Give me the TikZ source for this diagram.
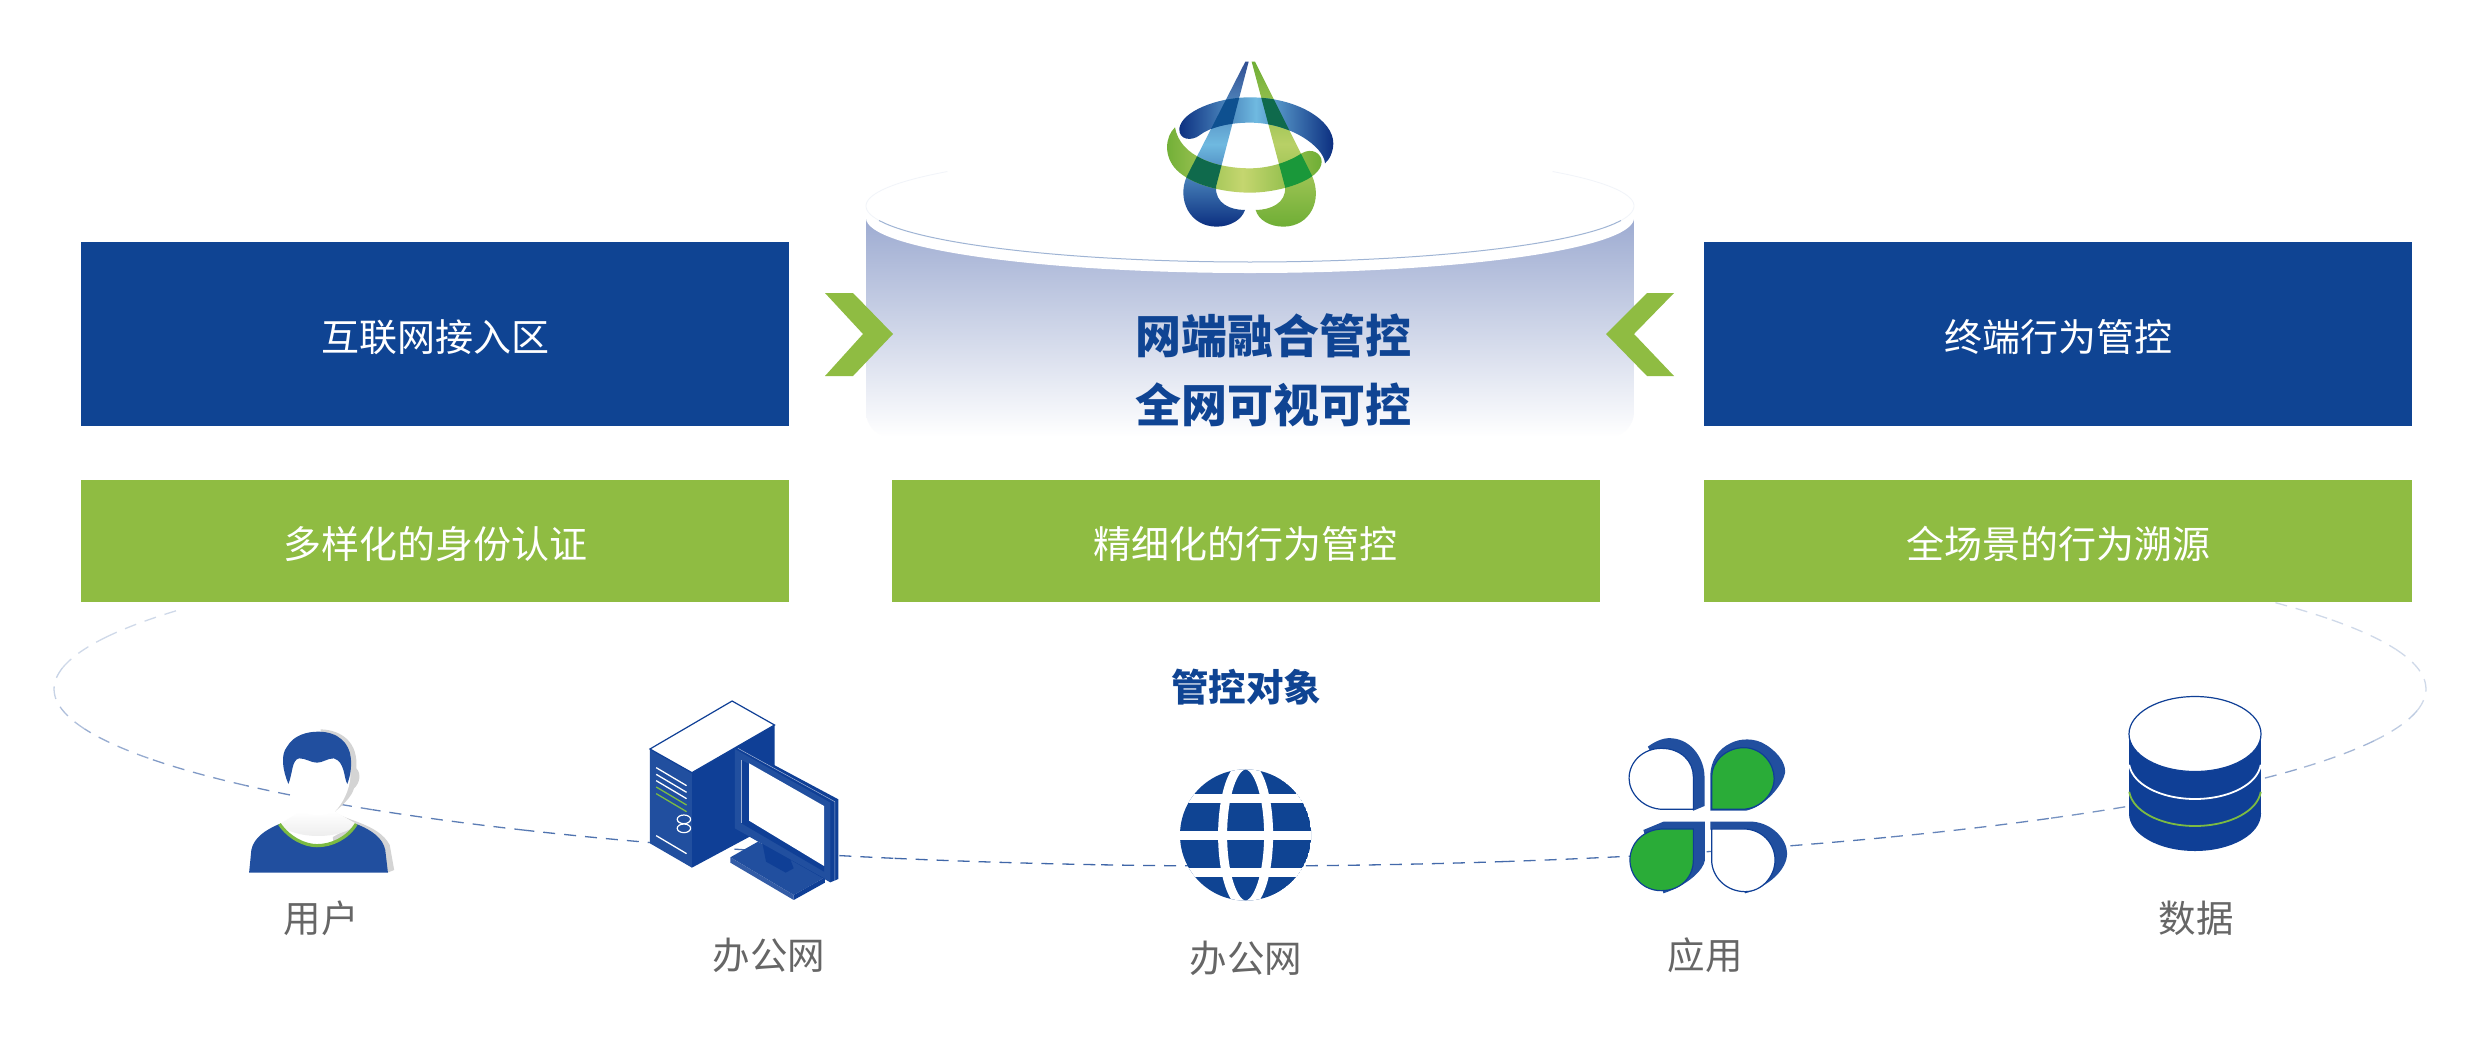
\documentclass[tikz,border=0pt]{standalone}
\usepackage{fontspec}
\setmainfont{Noto Sans CJK SC}
\usepackage{tikz}

\definecolor{boxblue}{HTML}{0F4493}
\definecolor{boxgreen}{HTML}{8FBC42}
\definecolor{iconblue}{HTML}{0F3F96}
\definecolor{facesblue}{HTML}{214F9F}
\definecolor{ringblue}{HTML}{3F66A8}
\definecolor{leafgreen}{HTML}{2AAC38}
\definecolor{collargreen}{HTML}{7CBB42}
\definecolor{labelgray}{HTML}{666666}
\definecolor{drumtop}{HTML}{9DABD1}
\definecolor{logodark}{HTML}{0C2F80}
\definecolor{logolight}{HTML}{6FB9E0}
\definecolor{logogreen}{HTML}{6FAE35}
\definecolor{logopale}{HTML}{C5D66F}
\definecolor{logomix}{HTML}{0F6A4C}
\definecolor{logosea}{HTML}{0E5090}
\definecolor{logobright}{HTML}{1A983A}

\newcommand{\logoblueband}{(178,265) .. controls (185,215) and (290,172) .. (390,172) .. controls (530,172) and (640,240) .. (640,310) .. controls (640,335) and (628,360) .. (615,370) .. controls (612,320) and (510,248) .. (390,248) .. controls (320,248) and (265,265) .. (240,285) .. controls (215,305) and (175,300) .. (178,265) -- cycle}
\newcommand{\logogreenband}{(165,262) .. controls (135,290) and (130,350) .. (170,390) .. controls (215,435) and (310,458) .. (390,458) .. controls (480,458) and (605,420) .. (605,365) .. controls (605,340) and (575,322) .. (545,340) .. controls (500,370) and (440,385) .. (390,385) .. controls (290,385) and (180,350) .. (165,262) -- cycle}
\newcommand{\logoblueleg}{(386,65) -- (376,65) -- (200,410) .. controls (170,480) and (210,560) .. (290,560) .. controls (330,560) and (365,540) .. (375,510) .. controls (330,510) and (285,490) .. (288,440) -- cycle}
\newcommand{\logogreenleg}{(395,65) -- (405,65) -- (575,405) .. controls (610,480) and (570,560) .. (490,560) .. controls (450,560) and (415,540) .. (407,510) .. controls (450,510) and (500,490) .. (495,440) -- cycle}
\newcommand{\boxtext}[1]{\raisebox{-3pt}[\height][\depth]{#1}}

\begin{document}
\begin{tikzpicture}[x=1pt,y=-1pt,
    blue box/.style={fill=boxblue,text=white,inner sep=0pt,minimum width=708pt,minimum height=184pt,
                     font=\fontsize{38}{45}\selectfont},
    green box/.style={fill=boxgreen,text=white,inner sep=0pt,minimum width=708pt,minimum height=122pt,
                      font=\fontsize{38}{45}\selectfont},
    head text/.style={text=boxblue,inner sep=0pt,font=\fontsize{46}{55}\bfseries\selectfont},
    item label/.style={text=labelgray,inner sep=0pt,font=\fontsize{37.5}{44}\selectfont},
    chevron/.style={fill=boxgreen},
    ring line/.style={line width=1.3pt,dash pattern=on 12pt off 9pt},
    icon side/.style={fill=facesblue},
    icon edge/.style={draw=iconblue,line width=1.2pt},
    zoom left/.style={shift={(200,680)},x=0.4464pt,y=-0.3333pt},
    zoom right/.style={shift={(1130,680)},x=0.4464pt,y=-0.3333pt},
    zoom logo/.style={shift={(1120,40)},x=0.3333pt,y=-0.3333pt}
  ]
  \useasboundingbox (0,0) rectangle (2482,1037);
  \fill[white] (0,0) rectangle (2482,1037);

  % dashed ring, pale at the sides
  \foreach \a [evaluate=\a as \p using {25+75*max(0,sin(\a))},evaluate=\a as \b using {\a+10}] in {-33,-23,...,203}
    \draw[ring line,draw=ringblue!\p!white] plot[domain=\a:\b,samples=12,smooth] ({1240+1186*cos(\x)},{689+177*sin(\x)});

  % cylinder
  \shade[top color=drumtop,bottom color=white]
    (866,218) -- (866,412) [rounded corners=25pt] -- (866,437) -- (1634,437) [sharp corners] -- (1634,218) -- cycle;
  \fill[white] (1250,218) ellipse [x radius=384,y radius=55];
  \fill[white] (1250,206) ellipse [x radius=384,y radius=56];
  \draw[draw=boxblue!6!white,line width=0.8pt] plot[domain=-38:15,samples=30,smooth] ({1250+384*cos(\x)},{206+56*sin(\x)});
  \draw[draw=boxblue!6!white,line width=0.8pt] plot[domain=165:218,samples=30,smooth] ({1250+384*cos(\x)},{206+56*sin(\x)});
  \draw[draw=boxblue!40!white,line width=1pt] plot[domain=15:165,samples=40,smooth] ({1250+384*cos(\x)},{206+56*sin(\x)});

  % logo
  \begin{scope}[zoom logo]
    \shade[top color=logodark!85!white,bottom color=logodark,middle color=logolight] \logoblueleg;
    \shade[top color=logogreen,bottom color=logogreen,middle color=logopale!85!logogreen] \logogreenleg;
    \shade[left color=logodark,right color=logodark,middle color=logolight] \logoblueband;
    \shade[left color=logogreen,right color=logogreen,middle color=logopale] \logogreenband;
    \begin{scope}
      \clip \logoblueband;
      \fill[logosea] \logoblueleg;
      \fill[logomix] \logogreenleg;
    \end{scope}
    \begin{scope}
      \clip \logogreenband;
      \fill[logomix] \logoblueleg;
      \fill[logobright] \logogreenleg;
    \end{scope}
  \end{scope}

  % boxes
  \node[blue box] (access) at (435,334) {\boxtext{互联网接入区}};
  \node[blue box] (terminal) at (2058,334) {\boxtext{终端行为管控}};
  \node[green box] (identity) at (435,541) {\boxtext{多样化的身份认证}};
  \node[green box] (behavior) at (1245.5,541) {\boxtext{精细化的行为管控}};
  \node[green box] (trace) at (2058,541) {\boxtext{全场景的行为溯源}};
  \node[head text] (fusion) at (1273,336) {网端融合管控};
  \node[head text] (visible) at (1273,405) {全网可视可控};
  \node[text=boxblue,inner sep=0pt,font=\fontsize{37.5}{44}\bfseries\selectfont] (objects) at (1246,687) {管控对象};

  % chevrons
  \fill[chevron] (825,293) -- (853,293) -- (893,334) -- (853,376) -- (825,376) -- (863,334) -- cycle;
  \fill[chevron] (1674,293) -- (1647,293) -- (1606,334) -- (1647,376) -- (1674,376) -- (1634,334) -- cycle;

  % user
  \begin{scope}[zoom left]
    \fill[black!17] (270,148) .. controls (320,150) and (355,190) .. (350,265) .. controls (362,280) and (358,310) .. (345,325)
      .. controls (340,350) and (320,375) .. (302,395) .. controls (320,420) and (400,430) .. (425,495) -- (435,570) -- (420,578) -- (300,500) -- (270,148) -- cycle;
    \fill[white] (205,225) -- (335,225) -- (337,290) .. controls (335,330) and (320,370) .. (302,395) -- (350,432) -- (262,497) -- (178,432) -- (225,395)
      .. controls (210,360) and (205,330) .. (205,290) -- cycle;
    \shade[top color=white,bottom color=black!8] (225,395) .. controls (250,410) and (280,410) .. (302,395) -- (350,432) .. controls (320,480) and (210,480) .. (178,432) -- cycle;
    \fill[facesblue] (198,312) .. controls (185,270) and (180,225) .. (195,200) .. controls (210,165) and (240,155) .. (265,155)
      .. controls (310,155) and (335,190) .. (338,235) .. controls (340,265) and (336,290) .. (330,312)
      .. controls (322,295) and (325,245) .. (300,235) .. controls (285,235) and (275,248) .. (262,248)
      .. controls (248,248) and (238,235) .. (222,235) .. controls (205,240) and (208,280) .. (198,312) -- cycle;
    \fill[facesblue] (110,578) -- (115,510) .. controls (120,475) and (145,450) .. (178,432) .. controls (200,475) and (235,497) .. (262,497)
      .. controls (295,497) and (330,475) .. (350,432) .. controls (385,450) and (410,475) .. (415,510) -- (421,578) -- cycle;
    \draw[collargreen,line width=3.2pt] (178,432) .. controls (200,475) and (235,497) .. (262,497) .. controls (295,497) and (330,475) .. (350,432);
  \end{scope}

  % computer
  \begin{scope}[zoom left]
    \fill[iconblue] (1102,278) -- (1287,135) -- (1287,430) -- (1102,563) -- cycle;
    \fill[icon side] (1008,207) -- (1102,278) -- (1102,563) -- (1008,490) -- cycle;
    \filldraw[fill=white,icon edge] (1008,207) -- (1192,63) -- (1287,135) -- (1102,278) -- cycle;
    \foreach \y in {263,283,302,467}
      \draw[white,line width=1.3pt] (1022,\y) -- (1090,\y+54);
    \foreach \y in {321,341}
      \draw[collargreen,line width=1.3pt] (1022,\y) -- (1090,\y+54);
    \draw[white,line width=1.2pt] (1084,418) ellipse [x radius=15,y radius=13];
    \draw[white,line width=1.2pt] (1084,445) ellipse [x radius=15,y radius=13];
    % stand
    \fill[icon side] (1188,532) -- (1250,485) -- (1400,592) -- (1330,645) -- cycle;
    \fill[iconblue!85!white] (1188,532) -- (1330,645) -- (1330,660) -- (1188,548) -- cycle;
    \fill[iconblue] (1330,645) -- (1400,592) -- (1400,608) -- (1330,660) -- cycle;
    \fill[iconblue] (1260,490) -- (1268,545) -- (1312,578) -- (1330,565) -- (1320,530) -- cycle;
    % screen
    \fill[iconblue] (1205,197) -- (1430,358) -- (1430,597) -- (1412,607) -- (1198,445) -- (1198,207) -- cycle;
    \fill[icon side] (1198,207) -- (1412,368) -- (1412,605) -- (1198,445) -- cycle;
    \fill[iconblue] (1213,240) -- (1398,378) -- (1398,575) -- (1213,430) -- cycle;
    \fill[white] (1230,250) -- (1398,378) -- (1398,558) -- (1230,422) -- cycle;
    \draw[white!60!iconblue,line width=0.5pt] (1205,205) -- (1422,365) -- (1422,603);
    \draw[white!60!iconblue,line width=0.5pt] (1213,240) -- (1213,430);
  \end{scope}

  % globe
  \begin{scope}
    \clip (1245.6,835) circle [radius=65.6];
    \fill[boxblue] (1245.6,835) circle [radius=65.6];
    \draw[white,line width=9pt] (1245.6,835) ellipse [x radius=23,y radius=70];
    \foreach \y in {798,835,872}
      \fill[white] (1170,\y-4.5) rectangle (1320,\y+4.5);
  \end{scope}

  % clover
  \begin{scope}[zoom right]
    \fill[icon side] (1160,200) .. controls (1180,180) and (1200,172) .. (1215,175) .. controls (1260,180) and (1287,240) .. (1287,290) -- (1287,378) -- (1262,392) -- (1200,300) -- cycle;
    \filldraw[fill=white,icon edge] (1262,388) -- (1195,388) .. controls (1150,388) and (1118,340) .. (1118,295) .. controls (1118,245) and (1150,205) .. (1190,205) .. controls (1235,205) and (1262,245) .. (1262,290) -- cycle;
    \fill[icon side] (1300,392) -- (1300,290) .. controls (1300,240) and (1320,205) .. (1345,190) .. controls (1365,175) and (1400,172) .. (1425,195) .. controls (1455,220) and (1475,260) .. (1465,290) .. controls (1455,325) and (1420,380) .. (1380,392) -- cycle;
    \filldraw[fill=leafgreen,icon edge] (1303,388) -- (1303,290) .. controls (1303,245) and (1335,203) .. (1375,203) .. controls (1415,203) and (1443,250) .. (1443,295) .. controls (1443,345) and (1410,388) .. (1370,388) -- cycle;
    \fill[icon side] (1150,450) -- (1195,425) -- (1288,425) -- (1288,540) .. controls (1285,570) and (1250,615) .. (1195,640) -- cycle;
    \filldraw[fill=leafgreen,icon edge] (1262,447) -- (1195,447) .. controls (1150,447) and (1120,490) .. (1120,540) .. controls (1120,590) and (1150,632) .. (1190,632) .. controls (1235,632) and (1262,590) .. (1262,540) -- cycle;
    \fill[icon side] (1300,447) -- (1300,425) -- (1395,425) .. controls (1440,430) and (1472,480) .. (1472,520) .. controls (1472,570) and (1430,620) .. (1378,640) -- cycle;
    \filldraw[fill=white,icon edge] (1303,447) -- (1375,447) .. controls (1415,447) and (1445,490) .. (1445,540) .. controls (1445,590) and (1415,635) .. (1378,635) .. controls (1335,635) and (1303,590) .. (1303,540) -- cycle;
  \end{scope}

  % database
  \fill[iconblue] (2195,813.5) ellipse [x radius=66,y radius=37.5];
  \fill[iconblue] (2129,734) rectangle (2261,813.5);
  \draw[white,line width=1.8pt] plot[domain=5:175,samples=30,smooth] ({2195+66*cos(\x)},{761.5+37.5*sin(\x)});
  \draw[collargreen,line width=1.8pt] plot[domain=5:175,samples=30,smooth] ({2195+66*cos(\x)},{788.5+37.5*sin(\x)});
  \filldraw[fill=white,draw=iconblue,line width=1.2pt] (2195,734) ellipse [x radius=66,y radius=37.5];

  % labels
  \node[item label] (user) at (321,918) {用户};
  \node[item label] (office) at (769,955) {办公网};
  \node[item label] (network) at (1246,958) {办公网};
  \node[item label] (app) at (1705,955) {应用};
  \node[item label] (data) at (2196,918) {数据};
\end{tikzpicture}
\end{document}
